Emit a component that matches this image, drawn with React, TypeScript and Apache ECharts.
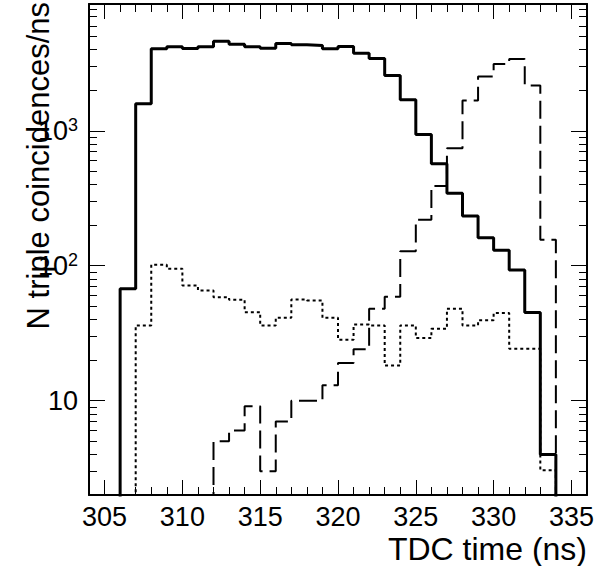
import React, { useEffect, useRef } from "react";
import * as echarts from "echarts";

// Histogram bins: lower edge of each 1 ns bin
const binStarts = [
  304, 305, 306, 307, 308, 309, 310, 311, 312, 313, 314, 315, 316, 317, 318, 319,
  320, 321, 322, 323, 324, 325, 326, 327, 328, 329, 330, 331, 332, 333, 334, 335,
];
const BIN_WIDTH = 1;

// Solid (thick) histogram
const solidCounts = [
  0, 0, 67.6, 1585, 4050, 4190, 4070, 4190, 4610, 4380, 4190, 4090, 4440, 4340, 4290, 4050,
  4210, 3760, 3430, 2570, 1700, 940, 570, 345, 234, 161, 130, 93, 45, 4.0, 0, 0,
];
// Long-dashed histogram
const dashedCounts = [
  0, 0, 0, 0, 0, 0, 0, 0, 5.0, 6.0, 9.1, 3.0, 7.0, 10, 10, 13,
  19, 24, 48, 59, 128, 219, 389, 743, 1680, 2530, 3130, 3410, 2170, 156, 0, 0,
];
// Dotted histogram
const dottedCounts = [
  0, 0, 0, 36.1, 101.6, 95, 71.4, 65.6, 58.5, 56, 45.3, 36.1, 41.2, 56.2, 55.3, 41.2,
  28.3, 36.7, 36.1, 18.2, 36.1, 29.1, 34.1, 48, 36.1, 39.4, 44.6, 24.3, 24.3, 3.05, 0, 0,
];

const xMajorTicks = [305, 310, 315, 320, 325, 330, 335];
const yLabelValues = [10, 100, 1000];
const yMinorTicks = [
  2, 3, 4, 5, 6, 7, 8, 9, 20, 30, 40, 50, 60, 70, 80, 90,
  200, 300, 400, 500, 600, 700, 800, 900, 2000, 3000, 4000, 5000, 6000, 7000, 8000,
];
const X_MIN = 304;
const X_MAX = 336;
const Y_MIN = 2;
const Y_MAX = 8700;
const xTitle = "TDC time (ns)";
const yTitle = "N triple coincidences/ns";

const FONT = "Liberation Sans, Arial, Helvetica, sans-serif";
const FLOOR = 1; // below axis minimum (empty bins drop out of the frame)

function histData(counts: number[]) {
  const pts: [number, number][] = counts.map((c, i) => [binStarts[i], c > 0 ? c : FLOOR]);
  const last = counts.length - 1;
  pts.push([binStarts[last] + BIN_WIDTH, counts[last] > 0 ? counts[last] : FLOOR]);
  return pts;
}

export default function App() {
  const ref = useRef<HTMLDivElement>(null);
  useEffect(() => {
    if (!ref.current) return;
    const chart = echarts.init(ref.current, null, { renderer: "svg" });
    const black = "#000";
    const xBase = {
      type: "value" as const,
      min: X_MIN,
      max: X_MAX,
      splitLine: { show: false },
    };
    const yBase = {
      type: "log" as const,
      min: Y_MIN,
      max: Y_MAX,
      logBase: 10,
      splitLine: { show: false },
      minorTick: { show: false },
    };
    const option: any = {
      animation: false,
      backgroundColor: "#fff",
      grid: {
        left: 89,
        right: 24,
        top: 4,
        bottom: 71,
        containLabel: false,
        outerBoundsMode: "none",
      },
      xAxis: [
        {
          ...xBase,
          position: "bottom",
          axisLine: { show: true, onZero: false, lineStyle: { color: black, width: 2 } },
          axisTick: {
            show: true,
            inside: true,
            length: 15,
            customValues: xMajorTicks,
            lineStyle: { color: black, width: 1 },
          },
          axisLabel: {
            show: true,
            customValues: xMajorTicks,
            margin: 11,
            fontSize: 27,
            lineHeight: 22,
            fontFamily: FONT,
            color: black,
          },
        },
        {
          ...xBase,
          position: "bottom",
          interval: 1,
          axisLine: { show: false },
          axisTick: { show: true, inside: true, length: 8, lineStyle: { color: black, width: 1 } },
          axisLabel: { show: false },
        },
        {
          ...xBase,
          position: "top",
          axisLine: { show: true, onZero: false, lineStyle: { color: black, width: 2 } },
          axisTick: {
            show: true,
            inside: true,
            length: 15,
            customValues: xMajorTicks,
            lineStyle: { color: black, width: 1 },
          },
          axisLabel: { show: false },
        },
        {
          ...xBase,
          position: "top",
          interval: 1,
          axisLine: { show: false },
          axisTick: { show: true, inside: true, length: 8, lineStyle: { color: black, width: 1 } },
          axisLabel: { show: false },
        },
      ],
      yAxis: [
        {
          ...yBase,
          position: "left",
          axisLine: { show: true, onZero: false, lineStyle: { color: black, width: 2 } },
          axisTick: {
            show: true,
            inside: true,
            length: 16,
            customValues: yLabelValues,
            lineStyle: { color: black, width: 1 },
          },
          axisLabel: {
            show: true,
            customValues: yLabelValues,
            margin: 11,
            color: black,
            formatter: (v: number) => {
              const p = Math.round(Math.log10(v));
              return p === 1 ? "{b|10}" : "{b|10}{s|" + p + "}";
            },
            rich: {
              b: { fontSize: 27, fontFamily: FONT, color: black, lineHeight: 30 },
              s: {
                fontSize: 18,
                fontFamily: FONT,
                color: black,
                verticalAlign: "top",
                lineHeight: 30,
                padding: [0, 0, 12, 0],
              },
            },
          },
        },
        {
          ...yBase,
          position: "left",
          axisLine: { show: false },
          axisTick: {
            show: true,
            inside: true,
            length: 8,
            customValues: yMinorTicks,
            lineStyle: { color: black, width: 1 },
          },
          axisLabel: { show: false },
        },
        {
          ...yBase,
          position: "right",
          axisLine: { show: true, onZero: false, lineStyle: { color: black, width: 2 } },
          axisTick: {
            show: true,
            inside: true,
            length: 16,
            customValues: yLabelValues,
            lineStyle: { color: black, width: 1 },
          },
          axisLabel: { show: false },
        },
        {
          ...yBase,
          position: "right",
          axisLine: { show: false },
          axisTick: {
            show: true,
            inside: true,
            length: 8,
            customValues: yMinorTicks,
            lineStyle: { color: black, width: 1 },
          },
          axisLabel: { show: false },
        },
      ],
      graphic: [
        {
          type: "text",
          x: 587,
          y: 549,
          style: {
            text: xTitle,
            fontSize: 32,
            lineHeight: 30,
            fontFamily: FONT,
            fill: black,
            align: "right",
            verticalAlign: "middle",
          },
        },
        {
          type: "text",
          x: 38,
          y: 2,
          rotation: Math.PI / 2,
          style: {
            text: yTitle,
            fontSize: 31,
            fontFamily: FONT,
            fill: black,
            align: "right",
            verticalAlign: "middle",
          },
        },
      ],
      series: [
        {
          name: "dotted",
          type: "line",
          step: "end",
          xAxisIndex: 0,
          yAxisIndex: 0,
          data: histData(dottedCounts),
          showSymbol: false,
          symbol: "none",
          clip: true,
          lineStyle: { color: black, width: 2, type: [3, 3] },
          z: 3,
        },
        {
          name: "dashed",
          type: "line",
          step: "end",
          xAxisIndex: 0,
          yAxisIndex: 0,
          data: histData(dashedCounts),
          showSymbol: false,
          symbol: "none",
          clip: true,
          lineStyle: { color: black, width: 2, type: [18, 7] },
          z: 3,
        },
        {
          name: "solid",
          type: "line",
          step: "end",
          xAxisIndex: 0,
          yAxisIndex: 0,
          data: histData(solidCounts),
          showSymbol: false,
          symbol: "none",
          clip: true,
          lineStyle: { color: black, width: 3 },
          z: 4,
        },
      ],
    };
    chart.setOption(option);
    return () => chart.dispose();
  }, []);
  return (
    <div
      ref={ref}
      style={{ position: "fixed", left: 0, top: 0, width: 611, height: 566, background: "#fff" }}
    />
  );
}
